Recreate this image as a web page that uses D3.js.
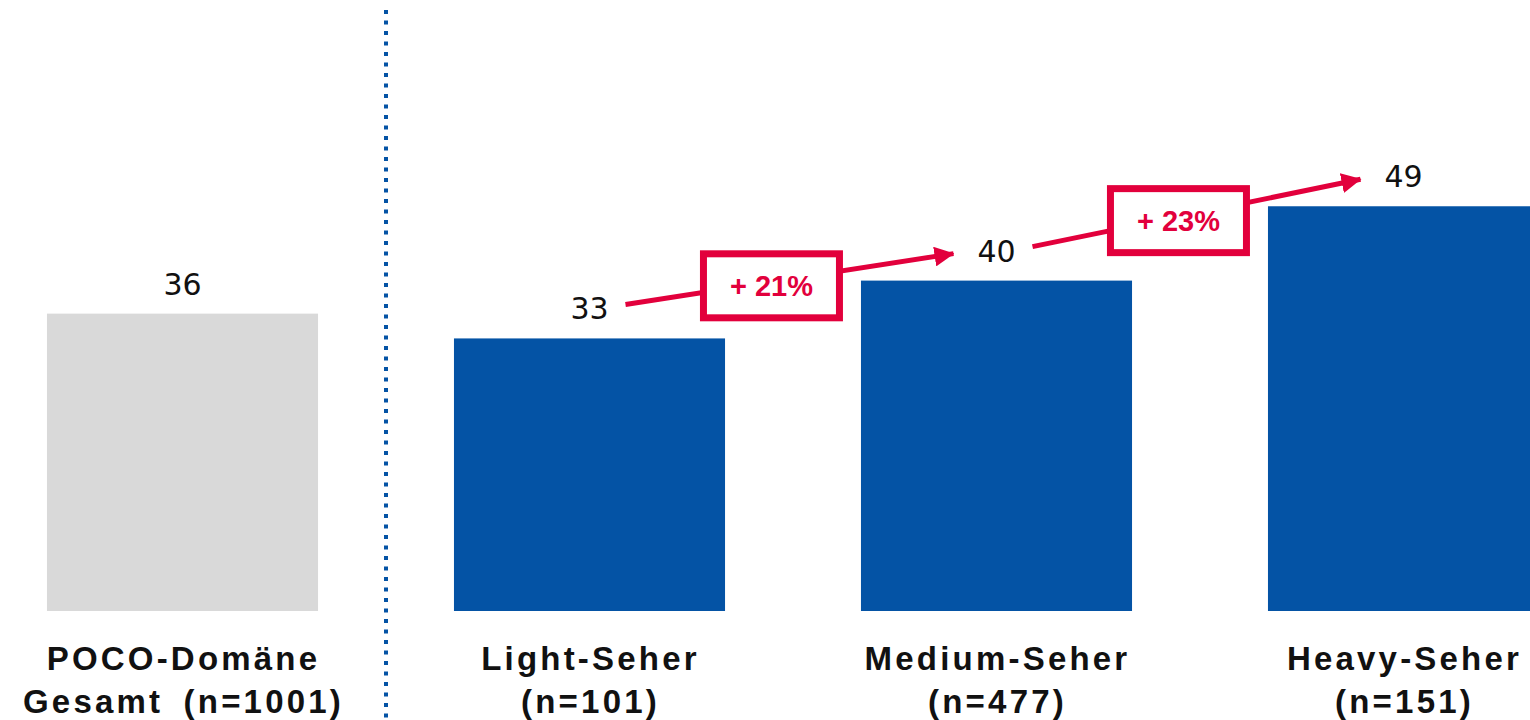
<!DOCTYPE html>
<html>
<head>
<meta charset="utf-8">
<script src="https://cdn.jsdelivr.net/npm/d3@7"></script>
<style>
  html, body { margin: 0; padding: 0; background: #fff; overflow: hidden; }
  svg { display: block; }
</style>
</head>
<body>
<svg id="chart" width="1530" height="720"></svg>
<script>
// Segments of TV viewers and their index values
const categories = ["POCO-Domäne Gesamt", "Light-Seher", "Medium-Seher", "Heavy-Seher"];
const sampleSizes = [1001, 101, 477, 151];
const values = [36, 33, 40, 49];
const isTotal = [true, false, false, false];

const W = 1530, H = 720;
const svg = d3.select("#chart");

const x = d3.scaleBand()
  .domain(categories)
  .range([-21, 1607])
  .paddingInner(0.334)
  .paddingOuter(0.167);

const y = d3.scaleLinear()
  .domain([0, 49])
  .range([611, 611 - 49 * 8.26]);

const blue = "#0453a5", grey = "#d9d9d9", red = "#e2003c";

// Bars
svg.selectAll("rect.bar")
  .data(categories)
  .join("rect")
  .attr("class", "bar")
  .attr("x", d => x(d))
  .attr("y", (d, i) => y(values[i]))
  .attr("width", x.bandwidth())
  .attr("height", (d, i) => y(0) - y(values[i]))
  .attr("fill", (d, i) => isTotal[i] ? grey : blue);

// Value labels
svg.selectAll("text.val")
  .data(categories)
  .join("text")
  .attr("class", "val")
  .attr("x", d => x(d) + x.bandwidth() / 2)
  .attr("y", (d, i) => y(values[i]) - 19)
  .attr("text-anchor", "middle")
  .attr("font-family", "DejaVu Sans, sans-serif")
  .attr("font-size", 30)
  .attr("fill", "#111")
  .text((d, i) => values[i]);

// Category labels (two lines)
const cat = svg.selectAll("text.cat")
  .data(categories)
  .join("text")
  .attr("class", "cat")
  .attr("text-anchor", "middle")
  .attr("font-family", "Liberation Sans, Arial, sans-serif")
  .attr("font-weight", "bold")
  .attr("font-size", 33)
  .attr("letter-spacing", 3.2)
  .attr("word-spacing", 8)
  .attr("fill", "#111");

cat.each(function (d, i) {
  const cx = x(d) + x.bandwidth() / 2 + 1;
  let l1, l2;
  if (isTotal[i]) {
    const parts = d.split(" ");
    l1 = parts[0];
    l2 = parts.slice(1).join(" ") + " (n=" + sampleSizes[i] + ")";
  } else {
    l1 = d;
    l2 = "(n=" + sampleSizes[i] + ")";
  }
  const t = d3.select(this);
  t.append("tspan").attr("x", cx).attr("y", 670).text(l1);
  t.append("tspan").attr("x", cx).attr("y", 713).text(l2);
});

// Dotted separator between total and segments
const sepX = (x(categories[0]) + x.bandwidth() + x(categories[1])) / 2;
svg.append("line")
  .attr("x1", sepX).attr("x2", sepX)
  .attr("y1", 10).attr("y2", H)
  .attr("stroke", blue)
  .attr("stroke-width", 4)
  .attr("stroke-dasharray", "4 6.5");

// Growth arrows with percentage boxes
const defs = svg.append("defs");
defs.append("marker")
  .attr("id", "head")
  .attr("viewBox", "0 0 10 10")
  .attr("refX", 9.5).attr("refY", 5)
  .attr("markerWidth", 4).attr("markerHeight", 4)
  .attr("markerUnits", "strokeWidth")
  .attr("orient", "auto")
  .append("path")
  .attr("d", "M0,0 L10,5 L0,10 Z")
  .attr("fill", red);

for (let i = 1; i < categories.length - 1; i++) {
  const c0 = x(categories[i]) + x.bandwidth() / 2;
  const c1 = x(categories[i + 1]) + x.bandwidth() / 2;
  const x0 = c0 + 36, y0 = y(values[i]) - 34;
  const x1 = c1 - 43, y1 = y(values[i + 1]) - 27;

  svg.append("line")
    .attr("x1", x0).attr("y1", y0)
    .attr("x2", x1).attr("y2", y1)
    .attr("stroke", red)
    .attr("stroke-width", 5)
    .attr("marker-end", "url(#head)");

  const t = 0.445;
  const bx = x0 + (x1 - x0) * t;
  const by = y0 + (y1 - y0) * t + 4;
  const bw = 136, bh = 64;
  svg.append("rect")
    .attr("x", bx - bw / 2).attr("y", by - bh / 2)
    .attr("width", bw).attr("height", bh)
    .attr("fill", "#fff")
    .attr("stroke", red)
    .attr("stroke-width", 7);

  const pct = Math.round((values[i + 1] / values[i] - 1) * 100);
  svg.append("text")
    .attr("x", bx).attr("y", by + 10)
    .attr("text-anchor", "middle")
    .attr("font-family", "Liberation Sans, Arial, sans-serif")
    .attr("font-weight", "bold")
    .attr("font-size", 29)
    .attr("fill", red)
    .text("+ " + pct + "%");
}
</script>
</body>
</html>
